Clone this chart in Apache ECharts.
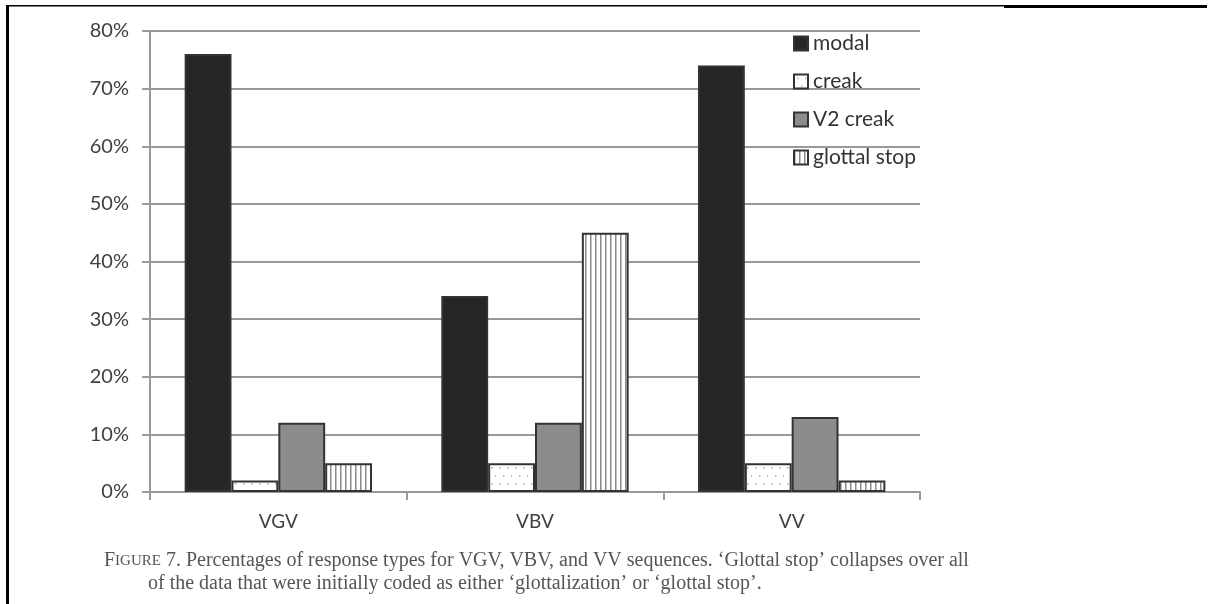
<!DOCTYPE html>
<html>
<head>
<meta charset="utf-8">
<script src="https://cdn.jsdelivr.net/npm/echarts@6/dist/echarts.min.js"></script>
<style>
  html, body { margin: 0; padding: 0; background: #fff; }
  #main { width: 1212px; height: 604px; }
</style>
</head>
<body>
<div id="main"></div>
<script>
// data
var categories = ['VGV', 'VBV', 'VV'];
var modal = [76, 34, 74];
var creak = [2, 5, 5];
var v2Creak = [12, 12, 13];
var glottalStop = [5, 45, 2];

// fill patterns
function dotPattern() {
    var c = document.createElement('canvas');
    c.width = 16; c.height = 16;
    var ctx = c.getContext('2d');
    ctx.fillStyle = '#fff';
    ctx.fillRect(0, 0, 16, 16);
    ctx.fillStyle = '#a8a8a8';
    ctx.fillRect(3, 3, 1.5, 1.5);
    ctx.fillRect(11, 3, 1.5, 1.5);
    ctx.fillRect(7, 11, 1.5, 1.5);
    ctx.fillRect(15, 11, 1.5, 1.5);
    return c;
}
function stripePattern() {
    var c = document.createElement('canvas');
    c.width = 5; c.height = 10;
    var ctx = c.getContext('2d');
    ctx.fillStyle = '#fff';
    ctx.fillRect(0, 0, 5, 10);
    ctx.fillStyle = '#8a8a8a';
    ctx.fillRect(0, 0, 1.5, 10);
    return c;
}

var chart = echarts.init(document.getElementById('main'), null, { renderer: 'canvas' });
var font = 'Lato, "Open Sans", sans-serif';
var serif = '"Liberation Serif", serif';
var border = { borderColor: '#333', borderWidth: 2 };

chart.setOption({
    animation: false,
    grid: { left: 150, right: 292, top: 31, bottom: 112 },
    legend: {
        orient: 'vertical',
        left: 788,
        top: 28,
        icon: 'rect',
        itemWidth: 14,
        itemHeight: 14,
        itemGap: 17,
        textStyle: { fontFamily: font, fontSize: 21, color: '#333' },
        data: ['modal', 'creak', 'V2 creak', 'glottal stop']
    },
    xAxis: {
        type: 'category',
        data: categories,
        axisLine: { lineStyle: { color: '#999', width: 2 } },
        axisTick: { show: true, length: 8, lineStyle: { color: '#999', width: 2 } },
        axisLabel: { fontFamily: font, fontSize: 19, color: '#404040', margin: 20 }
    },
    yAxis: {
        type: 'value',
        min: 0,
        max: 80,
        interval: 10,
        axisLine: { show: true, lineStyle: { color: '#999', width: 2 } },
        axisTick: { show: true, length: 8, lineStyle: { color: '#999', width: 2 } },
        splitLine: { lineStyle: { color: '#999', width: 2 } },
        axisLabel: {
            fontFamily: font, fontSize: 20, color: '#404040', margin: 21,
            formatter: function (v) { return v + '%'; }
        }
    },
    series: [
        { name: 'modal', type: 'bar', data: modal, barGap: '0%', barCategoryGap: '27%',
          itemStyle: Object.assign({ color: '#262626' }, border) },
        { name: 'creak', type: 'bar', data: creak,
          itemStyle: Object.assign({ color: { image: dotPattern(), repeat: 'repeat' } }, border) },
        { name: 'V2 creak', type: 'bar', data: v2Creak,
          itemStyle: Object.assign({ color: '#8c8c8c' }, border) },
        { name: 'glottal stop', type: 'bar', data: glottalStop,
          itemStyle: Object.assign({ color: { image: stripePattern(), repeat: 'repeat' } }, border) }
    ],
    graphic: [
        { type: 'rect', shape: { x: 6, y: 5, width: 3, height: 600 }, style: { fill: '#000' } },
        { type: 'rect', shape: { x: 6, y: 5, width: 1000, height: 1.5 }, style: { fill: '#000' } },
        { type: 'rect', shape: { x: 1004, y: 5, width: 203, height: 3 }, style: { fill: '#000' } },
        {
            type: 'text', left: 104, top: 551,
            style: {
                text: '{big|F}{sc|IGURE} 7. Percentages of response types for VGV, VBV, and VV sequences. \u2018Glottal stop\u2019 collapses over all',
                rich: {
                    big: { fontFamily: serif, fontSize: 20, fill: '#555' },
                    sc: { fontFamily: serif, fontSize: 15, fill: '#555' }
                },
                fontFamily: serif, fontSize: 20, fill: '#555'
            }
        },
        {
            type: 'text', left: 148, top: 574,
            style: {
                text: 'of the data that were initially coded as either \u2018glottalization\u2019 or \u2018glottal stop\u2019.',
                fontFamily: serif, fontSize: 20, fill: '#555'
            }
        }
    ]
});
</script>
</body>
</html>
